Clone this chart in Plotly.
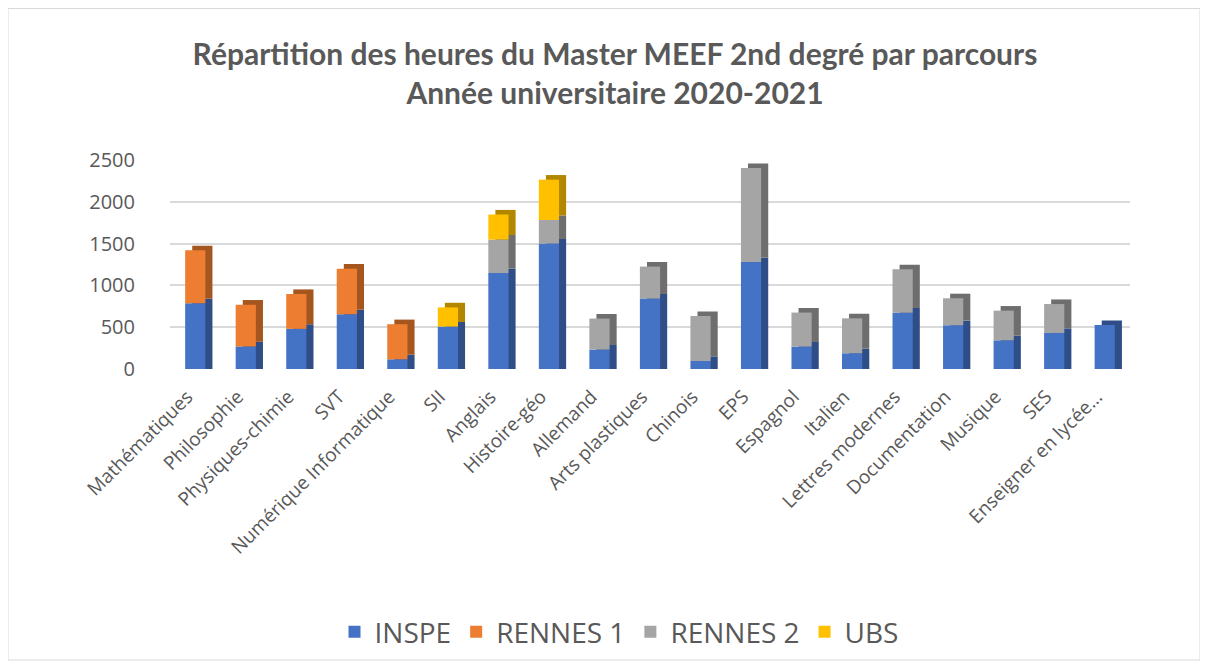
import plotly.graph_objects as go

# Data (hours)
parcours = [
    "Mathématiques", "Philosophie", "Physiques-chimie", "SVT", "Numérique Informatique",
    "SII", "Anglais", "Histoire-géo", "Allemand", "Arts plastiques", "Chinois", "EPS",
    "Espagnol", "Italien", "Lettres modernes", "Documentation", "Musique", "SES",
    "Enseigner en lycée…",
]
inspe = [786, 270, 480, 655, 116, 507, 1148, 1500, 232, 842, 96, 1280, 268, 188, 674, 523, 343, 431, 526]
rennes1 = [634, 500, 417, 545, 420, 0, 0, 0, 0, 0, 0, 0, 0, 0, 0, 0, 0, 0, 0]
rennes2 = [0, 0, 0, 0, 0, 0, 400, 282, 371, 383, 538, 1124, 407, 418, 518, 323, 355, 346, 0]
ubs = [0, 0, 0, 0, 0, 230, 300, 483, 0, 0, 0, 0, 0, 0, 0, 0, 0, 0, 0]

series = [
    ("INSPE", inspe, "#4472C4", "#2F4E87"),
    ("RENNES 1", rennes1, "#ED7D31", "#A5561F"),
    ("RENNES 2", rennes2, "#A5A5A5", "#6E6E6E"),
    ("UBS", ubs, "#FFC000", "#B38600"),
]

grey_text = "#595959"
bar_w = 0.4
depth_dx = 0.14     # side face shift, in category units
depth_dy = 55       # top face shift, in value units

x_idx = list(range(len(parcours)))
fig = go.Figure()

# cumulative bases for the stacked segments
bases = []
cum = [0] * len(parcours)
for name, vals, col, dark in series:
    bases.append(list(cum))
    cum = [c + v for c, v in zip(cum, vals)]

# darker "depth" faces behind the front faces
for i, ((name, vals, col, dark), base) in enumerate(zip(series, bases)):
    if i == 0:
        dbase = base
        dvals = [v + depth_dy if v else 0 for v in vals]
    else:
        dbase = [b + depth_dy for b in base]
        dvals = vals
    fig.add_trace(go.Bar(
        x=x_idx, y=dvals, base=dbase,
        width=bar_w, offset=-bar_w / 2 + depth_dx,
        marker=dict(color=dark, line=dict(width=0)),
        showlegend=False, hoverinfo="skip",
    ))

# front faces
for (name, vals, col, dark), base in zip(series, bases):
    fig.add_trace(go.Bar(
        x=x_idx, y=vals, base=base, name=name,
        width=bar_w, offset=-bar_w / 2,
        marker=dict(color=col, line=dict(width=0)),
    ))

# page has an 8px body margin, so the figure is 1200x659
W, H = 1200, 659
plot_l, plot_r, plot_t, plot_b = 162, 78, 152, 298
pw = W - plot_l - plot_r
ph = H - plot_t - plot_b
bottom_px = H - plot_b

fig.update_layout(
    width=W, height=H,
    barmode="overlay",
    paper_bgcolor="white", plot_bgcolor="white",
    font=dict(family="Open Sans, sans-serif", color=grey_text),
    title=dict(
        text="Répartition des heures du Master MEEF 2nd degré par parcours<br>Année universitaire 2020-2021",
        x=607 / W, xanchor="center", y=1 - 57 / H, yanchor="middle",
        font=dict(family="Lato, sans-serif", size=30, color=grey_text, weight="bold"),
    ),
    margin=dict(l=plot_l, r=plot_r, t=plot_t, b=plot_b),
    legend=dict(
        orientation="h", xref="container", x=611 / W, xanchor="center",
        yref="container", y=1 - 624 / H, yanchor="middle",
        font=dict(size=28, color=grey_text), itemwidth=30,
        traceorder="normal",
    ),
    shapes=[dict(
        type="rect", xref="paper", yref="paper",
        x0=(0 - plot_l) / pw, x1=(1192 - plot_l) / pw,
        y0=(bottom_px - 652) / ph, y1=(bottom_px - 0.5) / ph,
        line=dict(color="#D9D9D9", width=1), fillcolor="rgba(0,0,0,0)", layer="below",
    )],
)
fig.update_xaxes(
    tickmode="array", tickvals=x_idx, ticktext=parcours,
    tickangle=-45, tickfont=dict(size=19, color=grey_text),
    ticklabelshift=-8, ticklabelstandoff=12,
    range=[-0.5, len(parcours) - 0.5], showgrid=False, zeroline=False, showline=False, ticks="",
)
fig.update_yaxes(
    range=[0, 2500], tickvals=[0, 500, 1000, 1500, 2000, 2500],
    tickfont=dict(size=20, color=grey_text), showgrid=True, gridcolor="#D9D9D9", gridwidth=2,
    zeroline=False, showline=False, ticks="", ticklen=0, ticklabelstandoff=34,
)

fig.write_html("out.html")
